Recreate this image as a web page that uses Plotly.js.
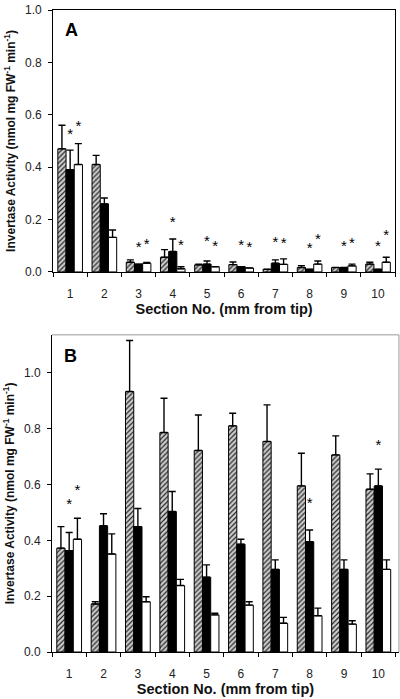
<!DOCTYPE html>
<html>
<head>
<meta charset="utf-8">
<script src="https://cdn.plot.ly/plotly-3.0.1.min.js"></script>
<style>html,body{margin:0;padding:0;background:#fff;}#chart{width:400px;height:699px;}</style>
</head>
<body>
<div id="chart"></div>
<script>
// ---------- data ----------
const sections = [1, 2, 3, 4, 5, 6, 7, 8, 9, 10];
const tickLabels = ["1", "2", "3", "4", "5", "6", "7", "8", "9", "10"];

// Panel A
const A_hatched     = [0.47, 0.41, 0.037, 0.056, 0.027, 0.028, 0.010, 0.017, 0.017, 0.030];
const A_hatched_err = [0.09, 0.035, 0.009, 0.029, 0.003, 0.010, null, 0.007, null, 0.007];
const A_black       = [0.39, 0.26, 0.030, 0.078, 0.030, 0.020, 0.033, 0.010, 0.017, 0.010];
const A_black_err   = [0.075, 0.022, null, 0.048, 0.012, null, 0.013, null, null, null];
const A_white       = [0.41, 0.132, 0.033, 0.012, 0.020, 0.015, 0.029, 0.030, 0.023, 0.037];
const A_white_err   = [0.08, 0.028, 0.003, 0.008, null, null, 0.021, 0.012, 0.007, 0.019];
const A_star_black  = [0.52, null, 0.090, 0.186, 0.114, 0.099, 0.110, 0.088, 0.094, 0.095];
const A_star_white  = [0.554, null, 0.103, 0.097, 0.094, 0.092, 0.104, 0.120, 0.104, 0.136];

// Panel B
const B_hatched     = [0.372, 0.172, 0.933, 0.786, 0.722, 0.810, 0.754, 0.595, 0.706, 0.583];
const B_hatched_err = [0.077, 0.008, 0.183, 0.123, 0.127, 0.045, 0.131, 0.117, 0.068, 0.055];
const B_black       = [0.363, 0.452, 0.449, 0.503, 0.268, 0.386, 0.296, 0.395, 0.296, 0.595];
const B_black_err   = [0.065, 0.043, 0.065, 0.072, 0.044, 0.018, 0.034, 0.042, 0.034, 0.060];
const B_white       = [0.404, 0.351, 0.180, 0.238, 0.133, 0.168, 0.103, 0.130, 0.100, 0.296];
const B_white_err   = [0.075, 0.072, 0.018, 0.022, 0.006, 0.012, 0.021, 0.027, 0.012, 0.034];
const B_star_black  = [0.527, null, null, null, null, null, null, 0.530, null, 0.738];
const B_star_white  = [0.575, null, null, null, null, null, null, null, null, null];

// ---------- styles ----------
const FONT = "Liberation Sans, Arial, sans-serif";
const BARGAP = 0.28;
const BW = (1 - BARGAP) / 3;
const yTitle = "<b>Invertase Activity (nmol mg FW<sup>-1</sup> min<sup>-1</sup>)</b>";
const xTitle = "<b>Section No. (mm from tip)</b>";

function errs(arr) {
  return {type: "data", symmetric: false, array: arr, arrayminus: arr.map(() => 0),
          color: "#000", thickness: 1.4, width: 3.5, visible: true};
}
function barTrace(y, err, kind, xa, ya) {
  const m = {line: {color: "#000", width: 1}};
  if (kind === "hatched") {
    m.color = "#d0d0d0";
    m.pattern = {shape: "/", fgcolor: "#222", bgcolor: "#cfcfcf", size: 3.5, solidity: 0.35};
  } else if (kind === "black") {
    m.color = "#000";
  } else {
    m.color = "#fff";
  }
  return {type: "bar", x: sections, y: y, marker: m, error_y: errs(err),
          xaxis: xa, yaxis: ya, showlegend: false, hoverinfo: "skip"};
}
function starTrace(y, offset, xa, ya) {
  const idx = sections.map((s, i) => i).filter(i => y[i] != null);
  return {type: "scatter", mode: "text",
          x: idx.map(i => sections[i] + offset), y: idx.map(i => y[i]),
          text: idx.map(() => "*"), textposition: "middle center",
          textfont: {size: 15, color: "#000", family: FONT},
          xaxis: xa, yaxis: ya, showlegend: false, hoverinfo: "skip", cliponaxis: false};
}

const traces = [
  barTrace(A_hatched, A_hatched_err, "hatched", "x", "y"),
  barTrace(A_black, A_black_err, "black", "x", "y"),
  barTrace(A_white, A_white_err, "white", "x", "y"),
  starTrace(A_star_black, 0, "x", "y"),
  starTrace(A_star_white, BW, "x", "y"),
  barTrace(B_hatched, B_hatched_err, "hatched", "x2", "y2"),
  barTrace(B_black, B_black_err, "black", "x2", "y2"),
  barTrace(B_white, B_white_err, "white", "x2", "y2"),
  starTrace(B_star_black, 0, "x2", "y2"),
  starTrace(B_star_white, BW, "x2", "y2"),
];

const boundaries = sections.map(s => s + 0.5).concat([0.5]);

function xAxis(domain, range, anchor, mirror) {
  return {
    domain: domain, range: range, anchor: anchor,
    tickmode: "array", tickvals: sections, ticktext: tickLabels,
    ticks: "outside", ticklen: 11, tickcolor: "rgba(0,0,0,0)",
    minor: {tickmode: "array", tickvals: boundaries, ticks: "outside", ticklen: 4, tickcolor: "#000", tickwidth: 1},
    showline: true, linecolor: "#000", linewidth: 1, mirror: mirror,
    showgrid: false, zeroline: false,
    tickfont: {family: FONT, size: 12, color: "#222"},
    title: {text: xTitle, font: {family: FONT, size: 14.5, color: "#111"}, standoff: 2}
  };
}
function yAxis(domain, range, anchor, mirror) {
  return {
    domain: domain, range: range, anchor: anchor,
    dtick: 0.2, tick0: 0, tickformat: ".1f",
    ticks: "outside", ticklen: 4, tickcolor: "#000", ticklabelstandoff: 4,
    showline: true, linecolor: "#000", linewidth: 1, mirror: mirror,
    showgrid: false, zeroline: false,
    tickfont: {family: FONT, size: 12, color: "#222"},
    title: {text: yTitle, font: {family: FONT, size: 12, color: "#111"}, standoff: 6}
  };
}

const layout = {
  width: 400, height: 699,
  margin: {l: 52, r: 0, t: 10, b: 47},
  paper_bgcolor: "#fff", plot_bgcolor: "#fff",
  barmode: "group", bargap: BARGAP, bargroupgap: 0,
  showlegend: false,
  xaxis: xAxis([0.003, 0.986], [0.5, 10.5], "y", true),
  yaxis: yAxis([0.592, 1], [0, 1.0], "x", true),
  xaxis2: xAxis([0, 0.997], [0.5, 10.6], "y2", false),
  yaxis2: yAxis([0, 0.494], [0, 1.136], "x2", false),
  shapes: [
    {type: "line", xref: "x2 domain", yref: "y2 domain", x0: 0, x1: 1, y0: 1, y1: 1, line: {color: "#999", width: 1}},
    {type: "line", xref: "x2 domain", yref: "y2 domain", x0: 1, x1: 1, y0: 0, y1: 1, line: {color: "#999", width: 1}}
  ],
  annotations: [
    {text: "<b>A</b>", xref: "x domain", yref: "y domain", x: 0.053, y: 0.924,
     xanchor: "center", yanchor: "middle", showarrow: false,
     font: {family: FONT, size: 18, color: "#000"}},
    {text: "<b>B</b>", xref: "x2 domain", yref: "y2 domain", x: 0.052, y: 0.934,
     xanchor: "center", yanchor: "middle", showarrow: false,
     font: {family: FONT, size: 18, color: "#000"}}
  ]
};

Plotly.newPlot("chart", traces, layout, {staticPlot: true, displayModeBar: false});
</script>
</body>
</html>
